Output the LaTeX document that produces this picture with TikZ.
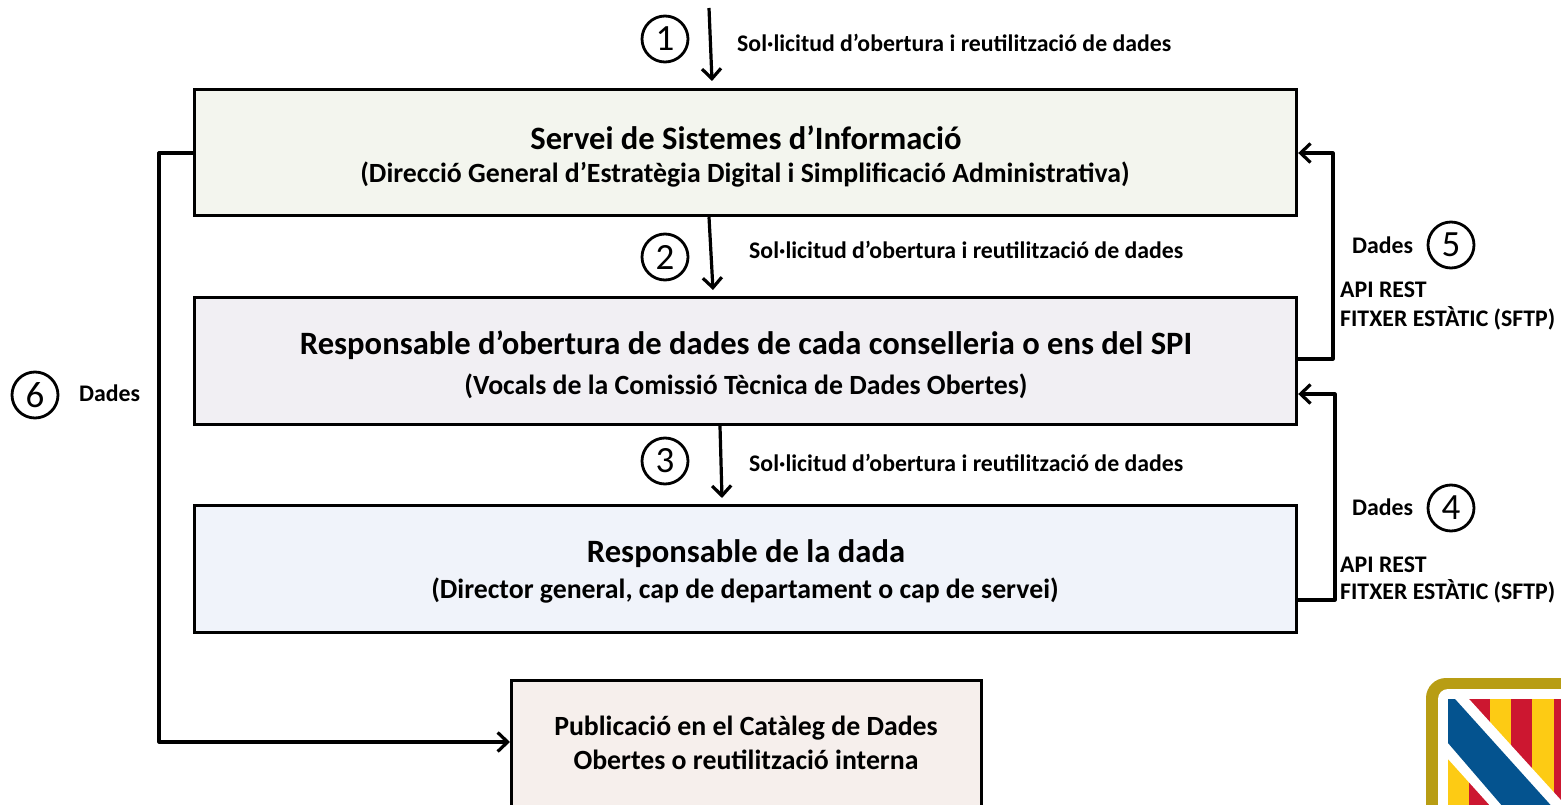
\documentclass[tikz,border=0pt]{standalone}
\usepackage{fontspec}
\setmainfont{Carlito}
\usetikzlibrary{calc,arrows.meta}
\definecolor{goldc}{HTML}{B89D14}
\definecolor{bluec}{HTML}{04538F}
\definecolor{redc}{HTML}{CC1730}
\definecolor{yelc}{HTML}{FDCB14}
\tikzset{
  x=1pt,y=-1pt,
  stagebox/.style={draw=black,line width=3.2pt,anchor=north west,inner sep=0pt,align=center,font=\bfseries},
  link/.style={draw=black,line width=3.2pt,-{Straight Barb[length=10pt,width=19pt,line width=3.2pt]},line join=round},
  numc/.style={draw=black,circle,line width=2.8pt,minimum size=46pt,inner sep=0pt,font=\fontsize{37}{37}\selectfont},
  lab/.style={font=\bfseries\fontsize{23.8}{29}\selectfont,inner sep=0pt},
  labl/.style={lab,anchor=west,align=left},
  ttl/.style={font=\bfseries\fontsize{32.6}{32}\selectfont,inner sep=0pt},
  subt/.style={font=\bfseries\fontsize{27.8}{28}\selectfont,inner sep=0pt},
}
\begin{document}
\begin{tikzpicture}
\useasboundingbox (0,0) rectangle (1561,805);
\begin{scope}
\clip (0,0) rectangle (1561,805);
\node[stagebox,fill={rgb,255:red,246;green,239;blue,236},minimum width=470pt,minimum height=132pt] (pub) at (510,679) {};
\end{scope}
\node[font=\bfseries\fontsize{27.8}{34.5}\selectfont,align=center,inner sep=0pt] (pubt) at (746,743) {Publicació en el Catàleg de Dades\\Obertes o reutilització interna};
\node[stagebox,fill={rgb,255:red,243;green,245;blue,238},minimum width=1102pt,minimum height=126pt] (s1) at (193,88) {};
\node[stagebox,fill={rgb,255:red,241;green,239;blue,243},minimum width=1102pt,minimum height=127pt] (s2) at (193,296) {};
\node[stagebox,fill={rgb,255:red,240;green,243;blue,250},minimum width=1102pt,minimum height=127pt] (s3) at (193,504) {};
\node[ttl] (t1) at (746,138) {Servei de Sistemes d’Informació};
\node[subt] (u1) at (745,175) {(Direcció General d’Estratègia Digital i Simplificació Administrativa)};
\node[ttl] (t2) at (746,345) {Responsable d’obertura de dades de cada conselleria o ens del SPI};
\node[subt] (u2) at (746,386) {(Vocals de la Comissió Tècnica de Dades Obertes)};
\node[ttl] (t3) at (746,554) {Responsable de la dada};
\node[subt] (u3) at (745,591) {(Director general, cap de departament o cap de servei)};
% numbered circles
\node[numc] (n1) at (665,39) {1};
\node[numc] (n2) at (665,257) {2};
\node[numc] (n3) at (665,461) {3};
\node[numc] (n4) at (1451,508) {4};
\node[numc] (n5) at (1451,245) {5};
\node[numc] (n6) at (35,395) {6};
% labels
\node[labl] (l1) at (737,43) {Sol·licitud d’obertura i reutilització de dades};
\node[labl] (l2) at (749,250) {Sol·licitud d’obertura i reutilització de dades};
\node[labl] (l3) at (749,463) {Sol·licitud d’obertura i reutilització de dades};
\node[labl] (d5) at (1352,245) {Dades};
\node[labl] (d4) at (1352,507) {Dades};
\node[labl] (d6) at (79,393) {Dades};
\node[labl] (a5) at (1340,306) {API REST\\FITXER ESTÀTIC (SFTP)};
\node[labl,font=\bfseries\fontsize{23.8}{27}\selectfont] (a4) at (1340,580) {API REST\\FITXER ESTÀTIC (SFTP)};
% connectors
\coordinate (top) at (709,8);
\draw[link] (top) -- ($(s1.north west)+(519,-7)$);
\draw[link] ($(s1.south west)+(516,0)$) -- ($(s2.north west)+(520,-6)$);
\draw[link] ($(s2.south west)+(527,0)$) -- ($(s3.north west)+(529,-6)$);
\coordinate (c5a) at (1333,359);
\coordinate (c5b) at (1333,153);
\draw[link] (s2.north east |- c5a) -- (c5a) -- (c5b) -- (s1.north east |- c5b);
\coordinate (c4a) at (1335,600);
\coordinate (c4b) at (1335,394);
\draw[link] (s3.north east |- c4a) -- (c4a) -- (c4b) -- (s2.north east |- c4b);
\coordinate (c6a) at (159,153);
\coordinate (c6b) at (159,742);
\draw[link] (s1.north west |- c6a) -- (c6a) -- (c6b) -- (pub.north west |- c6b);
% logo
\begin{scope}
\clip (0,0) rectangle (1561,805);
\fill[goldc,rounded corners=20pt] (1426,860) -- (1426,678) -- (1620,678) -- (1620,860) -- cycle;
\fill[white,rounded corners=10pt] (1438,860) -- (1438,689) -- (1620,689) -- (1620,860) -- cycle;
\begin{scope}
\clip (1448,699) rectangle (1580,830);
\fill[yelc] (1448,699) rectangle (1580,830);
\foreach \x in {1469,1511,1554} \fill[redc] (\x,699) rectangle ++(21.3,131);
\fill[white] (1448,699) -- (1469,699) -- (1620,865) -- (1620,950) -- (1448,759) -- cycle;
\fill[bluec] (1448,699) -- (1455,699) -- (1620,882) -- (1620,950) -- (1590,908) -- (1448,743) -- cycle;
\end{scope}
\end{scope}
\end{tikzpicture}
\end{document}
